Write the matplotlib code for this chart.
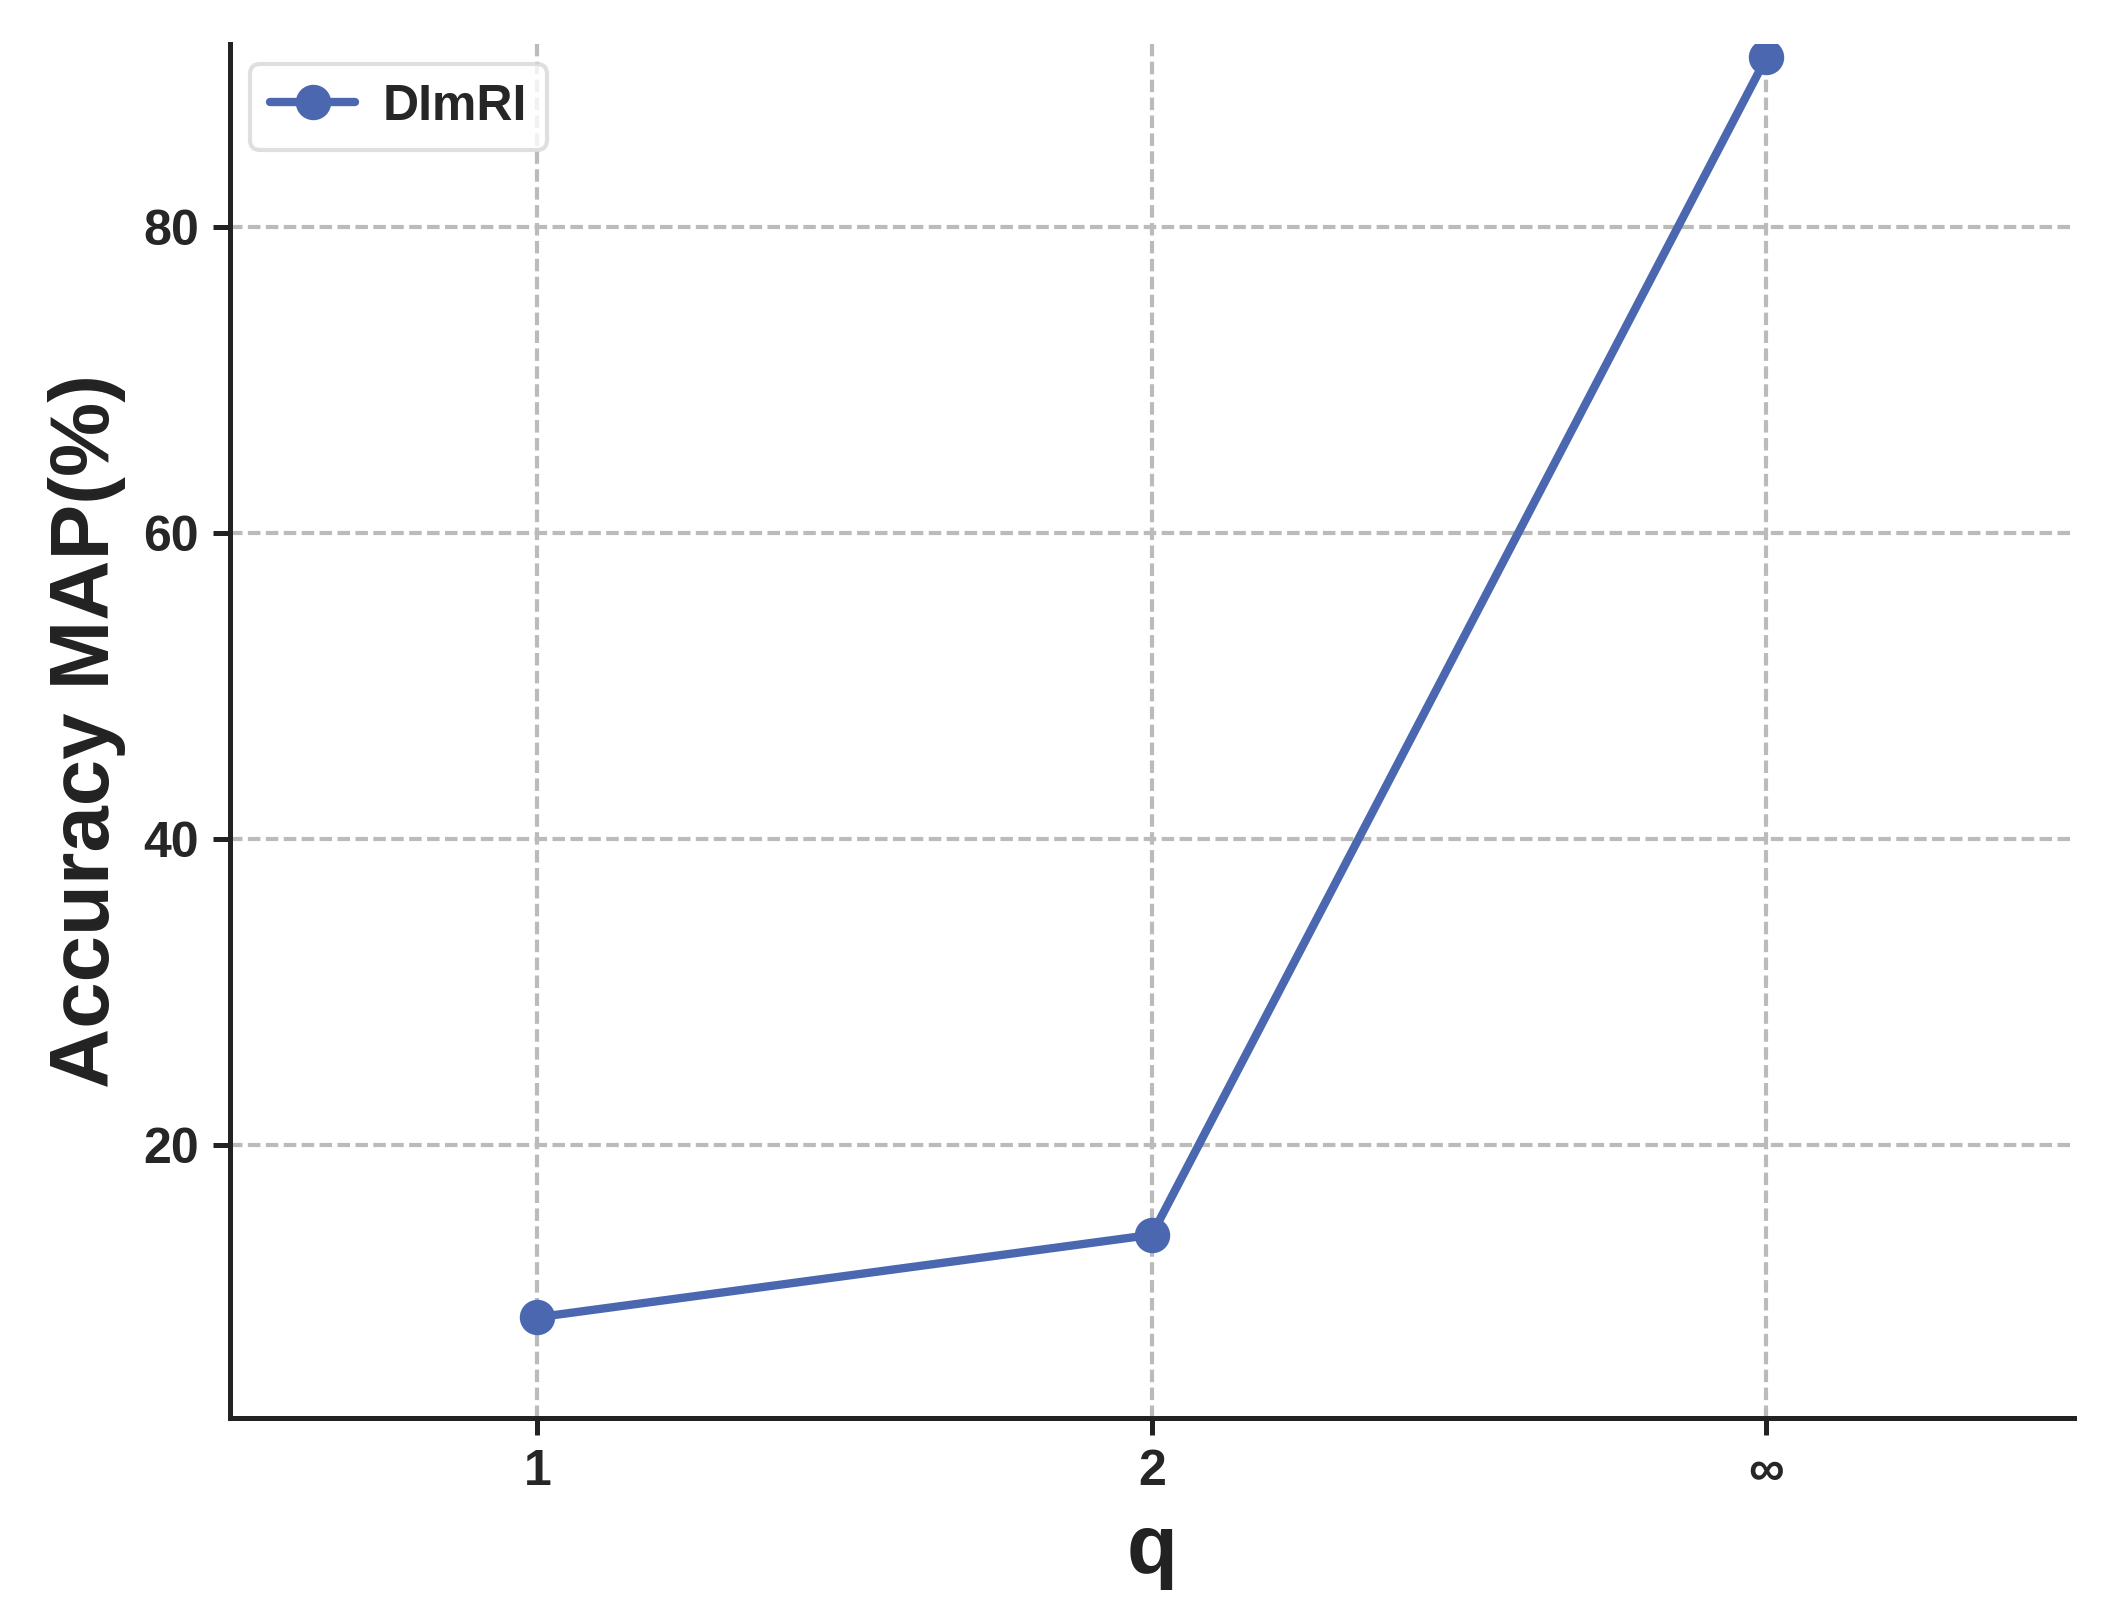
import matplotlib
matplotlib.use('Agg')
import matplotlib.pyplot as plt
import seaborn as sns

q_labels = ["1", "2", "∞"]
map_acc = [8.7, 14.1, 91.1]

sns.set_style("ticks")
plt.rcParams['font.family'] = ['Liberation Sans', 'DejaVu Sans']
plt.rcParams['font.weight'] = 'bold'

fig = plt.figure(figsize=(2101 / 300, 1619 / 300), dpi=300)
ax = fig.add_axes([0.1095, 0.124, 0.8775, 0.849])

x = list(range(len(q_labels)))
ax.plot(x, map_acc, color="#4a67b0", lw=2, marker="o", markersize=7.5, label="DImRI")

ax.set_xlim(-0.5, 2.5)
ax.set_ylim(2.1, 92.0)
ax.set_xticks(x)
ax.set_xticklabels(q_labels)
ax.set_yticks([20, 40, 60, 80])
ax.tick_params(axis='both', labelsize=12, width=1.2, length=4, color="#222222")
for lab in ax.get_xticklabels() + ax.get_yticklabels():
    lab.set_fontweight('bold')

ax.grid(True, linestyle=(0, (3, 1.3)), color="#bbbbbb", lw=1)
ax.set_axisbelow(True)
for s in ["top", "right"]:
    ax.spines[s].set_visible(False)
for s in ["left", "bottom"]:
    ax.spines[s].set_linewidth(1.2)
    ax.spines[s].set_color("#222222")

ax.set_xlabel("q", fontsize=20, fontweight='bold', color="#222222")
ax.set_ylabel("Accuracy MAP(%)", fontsize=20, fontweight='bold', color="#222222")

leg = ax.legend(loc="upper left", prop={'weight': 'bold', 'size': 12}, fancybox=True,
                handlelength=1.7, handletextpad=0.55, borderaxespad=0.4)
leg.get_frame().set_edgecolor("#d8d8d8")

fig.savefig("out.png", dpi=300)
